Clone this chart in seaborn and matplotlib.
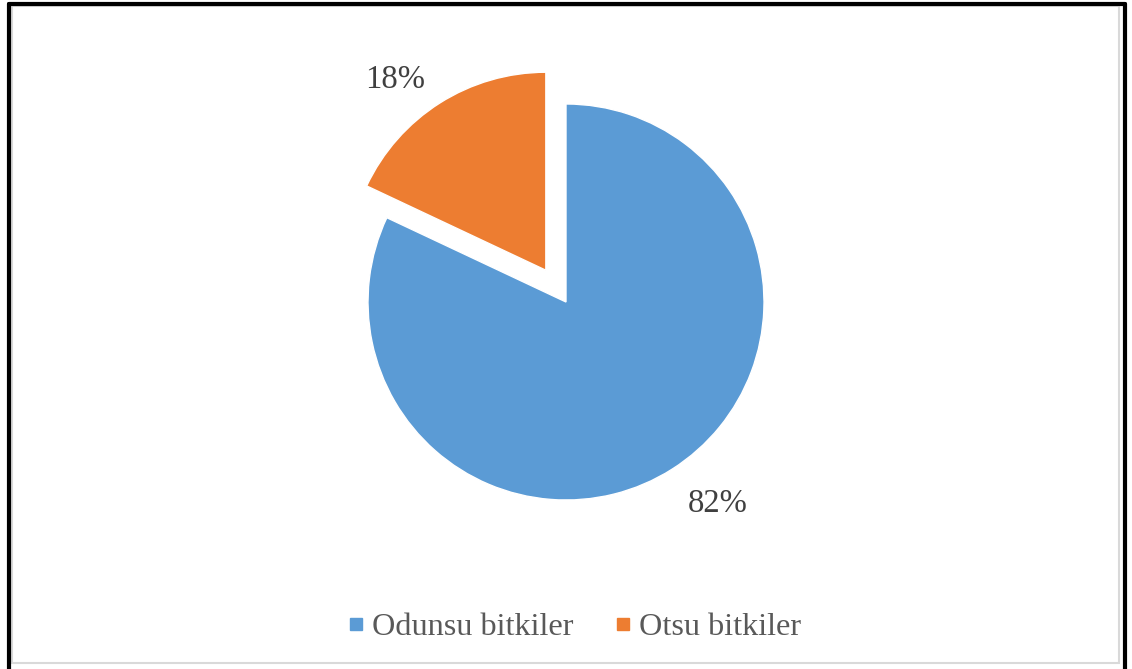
import matplotlib
matplotlib.use("Agg")
import matplotlib.pyplot as plt
from matplotlib.lines import Line2D
from matplotlib.patches import Rectangle
import seaborn as sns

categories = ["Odunsu bitkiler", "Otsu bitkiler"]
shares = [82, 18]
colors = ["#5B9BD5", "#ED7D31"]
explode = [0, 0.19]

sns.set_theme(style="white")
plt.rcParams["font.family"] = ["Liberation Serif", "DejaVu Serif"]

W, H = 1132, 669
fig = plt.figure(figsize=(W / 100, H / 100), dpi=100)

# frame: black outer edges, light gray inner border
fig.add_artist(Rectangle((11.5 / W, 1 - 663 / H), 1107 / W, 657 / H, transform=fig.transFigure,
                         fill=False, edgecolor="#D9D9D9", lw=1.5))
fig.add_artist(Line2D([9 / W, 9 / W], [0, 1 - 4 / H], transform=fig.transFigure, color="black", lw=3))
fig.add_artist(Line2D([9 / W, 1125 / W], [1 - 4 / H, 1 - 4 / H], transform=fig.transFigure, color="black", lw=3))
fig.add_artist(Line2D([1125 / W, 1125 / W], [0, 1 - 4 / H], transform=fig.transFigure, color="black", lw=3))

# pie axes: center (566, 302) px from top, radius 198 px
r = 198
half = 260
cx, cy = 566, H - 302
ax = fig.add_axes([(cx - half) / W, (cy - half) / H, 2 * half / W, 2 * half / H])
wedges, texts, autotexts = ax.pie(
    shares, colors=colors, explode=explode, startangle=90, counterclock=False,
    autopct="%d%%", pctdistance=1.22, radius=1,
    wedgeprops=dict(edgecolor="white", linewidth=1),
    textprops=dict(fontsize=23.5, color="#404040"),
)
# small label nudges (Excel "best fit" placement)
nudges = [(0.11, 0.01), (-0.11, -0.07)]
for t, (dx, dy) in zip(autotexts, nudges):
    x, y = t.get_position()
    t.set_position((x + dx, y + dy))

lim = half / r
ax.set_xlim(-lim, lim)
ax.set_ylim(-lim, lim)
ax.set_aspect("equal")
ax.axis("off")

handles = [Line2D([], [], marker="s", linestyle="none", markersize=9,
                  markerfacecolor=c, markeredgecolor=c) for c in colors]
fig.legend(handles, categories, loc="center", bbox_to_anchor=(572 / W, 1 - 627 / H),
           ncol=2, frameon=False, fontsize=23.2, labelcolor="#595959",
           handletextpad=0.1, columnspacing=1.15, handlelength=0.8)

fig.savefig("out.png", dpi=100, facecolor="white")
